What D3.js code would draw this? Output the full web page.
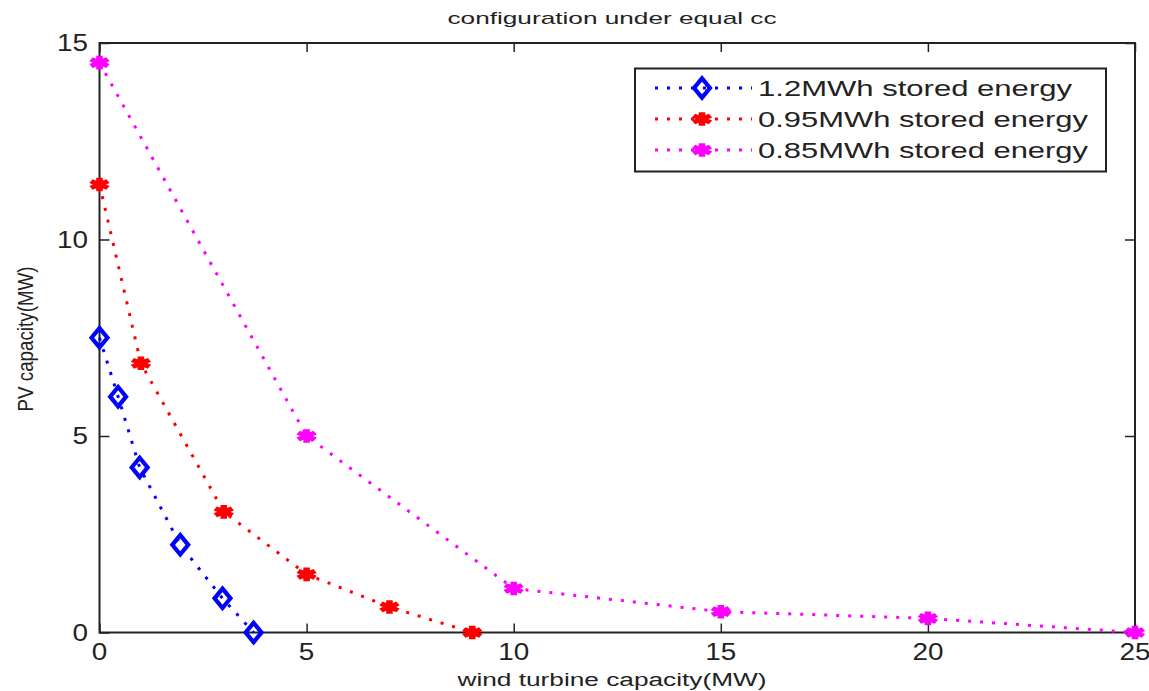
<!DOCTYPE html>
<html>
<meta charset="utf-8">
<style>
  body { margin: 0; background: #fff; }
  text { font-family: "Liberation Sans", Arial, sans-serif; fill: #222; }
</style>
<body>
<script src="https://d3js.org/d3.v7.min.js"></script>
<script>

// data
var titleText = "configuration under equal cc";
var xLabel = "wind turbine capacity(MW)";
var yLabel = "PV capacity(MW)";
var xTicks = [0, 5, 10, 15, 20, 25];
var yTicks = [0, 5, 10, 15];

var seriesNames = ["1.2MWh stored energy", "0.95MWh stored energy", "0.85MWh stored energy"];
var seriesColors = ["#0000ff", "#ff0000", "#ff00ff"];
var seriesMarkers = ["diamond", "star", "star"];

var windBlue = [0, 0.45, 0.97, 1.95, 2.97, 3.72];
var pvBlue   = [7.5, 6.0, 4.2, 2.23, 0.87, 0];
var windRed  = [0, 1, 3, 5, 7, 9];
var pvRed    = [11.4, 6.85, 3.07, 1.48, 0.65, 0];
var windMag  = [0, 5, 10, 15, 20, 25];
var pvMag    = [14.5, 5.0, 1.12, 0.53, 0.36, 0];

var width = 1149, height = 691;
var plotL = 99.5, plotR = 1135, plotT = 43, plotB = 632.5;

var svg = d3.select("body").append("svg")
  .attr("width", width)
  .attr("height", height);

var x = d3.scaleLinear().domain([0, 25]).range([plotL, plotR]);
var y = d3.scaleLinear().domain([0, 15]).range([plotB, plotT]);

// axes with inward ticks on all four sides
svg.append("g")
  .attr("transform", "translate(0," + plotB + ")")
  .call(d3.axisBottom(x).tickValues(xTicks).tickSizeInner(-9).tickSizeOuter(0).tickFormat(""));
svg.append("g")
  .attr("transform", "translate(0," + plotT + ")")
  .call(d3.axisTop(x).tickValues(xTicks).tickSizeInner(-9).tickSizeOuter(0).tickFormat(""));
svg.append("g")
  .attr("transform", "translate(" + plotL + ",0)")
  .call(d3.axisLeft(y).tickValues(yTicks).tickSizeInner(-10).tickSizeOuter(0).tickFormat(""));
svg.append("g")
  .attr("transform", "translate(" + plotR + ",0)")
  .call(d3.axisRight(y).tickValues(yTicks).tickSizeInner(-10).tickSizeOuter(0).tickFormat(""));
svg.selectAll(".domain").remove();
svg.selectAll(".tick line").attr("stroke", "#222").attr("stroke-width", 1.5);

svg.append("rect")
  .attr("x", plotL).attr("y", plotT)
  .attr("width", plotR - plotL).attr("height", plotB - plotT)
  .attr("fill", "none").attr("stroke", "#222").attr("stroke-width", 2);

// tick labels (the picture is stretched sideways, so text gets a textLength)
svg.selectAll(".xl").data(xTicks).enter().append("text")
  .attr("x", function(d) { return x(d); })
  .attr("y", 660)
  .attr("text-anchor", "middle")
  .style("font-size", "23px")
  .attr("textLength", function(d) { return String(d).length * 15.5; })
  .attr("lengthAdjust", "spacingAndGlyphs")
  .text(function(d) { return d; });

svg.selectAll(".yl").data(yTicks).enter().append("text")
  .attr("x", 88)
  .attr("y", function(d) { return y(d) + 8; })
  .attr("text-anchor", "end")
  .style("font-size", "23px")
  .attr("textLength", function(d) { return String(d).length * 15.5; })
  .attr("lengthAdjust", "spacingAndGlyphs")
  .text(function(d) { return d; });

svg.append("text")
  .attr("x", 612).attr("y", 24)
  .attr("text-anchor", "middle")
  .style("font-size", "17px")
  .attr("textLength", 329).attr("lengthAdjust", "spacingAndGlyphs")
  .text(titleText);

svg.append("text")
  .attr("x", 612).attr("y", 686)
  .attr("text-anchor", "middle")
  .style("font-size", "18px")
  .attr("textLength", 309).attr("lengthAdjust", "spacingAndGlyphs")
  .text(xLabel);

svg.append("text")
  .attr("transform", "translate(33,339) rotate(-90) scale(1,1.3)")
  .attr("text-anchor", "middle")
  .style("font-size", "17px")
  .attr("textLength", 145).attr("lengthAdjust", "spacingAndGlyphs")
  .text(yLabel);

// series
var series = [
  { name: seriesNames[0], color: seriesColors[0], marker: seriesMarkers[0], xs: windBlue, ys: pvBlue },
  { name: seriesNames[1], color: seriesColors[1], marker: seriesMarkers[1], xs: windRed, ys: pvRed },
  { name: seriesNames[2], color: seriesColors[2], marker: seriesMarkers[2], xs: windMag, ys: pvMag }
];

var line = d3.line()
  .x(function(d) { return x(d[0]); })
  .y(function(d) { return y(d[1]); });

function drawMarker(g, type, color) {
  if (type == "diamond") {
    g.append("path")
      .attr("d", d3.symbol().type(d3.symbolDiamond).size(120)())
      .attr("transform", "scale(1.35,0.95)")
      .attr("fill", "none")
      .attr("stroke", color)
      .attr("stroke-width", 3.5);
  } else {
    g.append("path")
      .attr("d", d3.symbol().type(d3.symbolAsterisk).size(130)())
      .attr("transform", "scale(1.45,1)")
      .attr("fill", "none")
      .attr("stroke", color)
      .attr("stroke-width", 4.5);
    g.append("circle")
      .attr("r", 4.5)
      .attr("transform", "scale(1.45,1)")
      .attr("fill", color);
  }
}

series.forEach(function(s) {
  var pts = s.xs.map(function(v, i) { return [v, s.ys[i]]; });
  svg.append("path")
    .datum(pts)
    .attr("d", line)
    .attr("fill", "none")
    .attr("stroke", s.color)
    .attr("stroke-width", 3)
    .attr("stroke-dasharray", "3,9");

  pts.forEach(function(p) {
    var g = svg.append("g")
      .attr("transform", "translate(" + x(p[0]) + "," + y(p[1]) + ")");
    drawMarker(g, s.marker, s.color);
  });
});

// legend
var legend = svg.append("g");
legend.append("rect")
  .attr("x", 635).attr("y", 68.5)
  .attr("width", 471).attr("height", 103)
  .attr("fill", "#fff").attr("stroke", "#222").attr("stroke-width", 2);

var rowY = [88, 119, 150];
series.forEach(function(s, i) {
  legend.append("line")
    .attr("x1", 655).attr("x2", 752)
    .attr("y1", rowY[i]).attr("y2", rowY[i])
    .attr("stroke", s.color)
    .attr("stroke-width", 3)
    .attr("stroke-dasharray", "3,9");
  var g = legend.append("g").attr("transform", "translate(702," + rowY[i] + ")");
  drawMarker(g, s.marker, s.color);
  legend.append("text")
    .attr("x", 758).attr("y", rowY[i] + 8)
    .style("font-size", "22px")
    .attr("textLength", i == 0 ? 314 : 330)
    .attr("lengthAdjust", "spacingAndGlyphs")
    .text(s.name);
});

</script>
</body>
</html>
